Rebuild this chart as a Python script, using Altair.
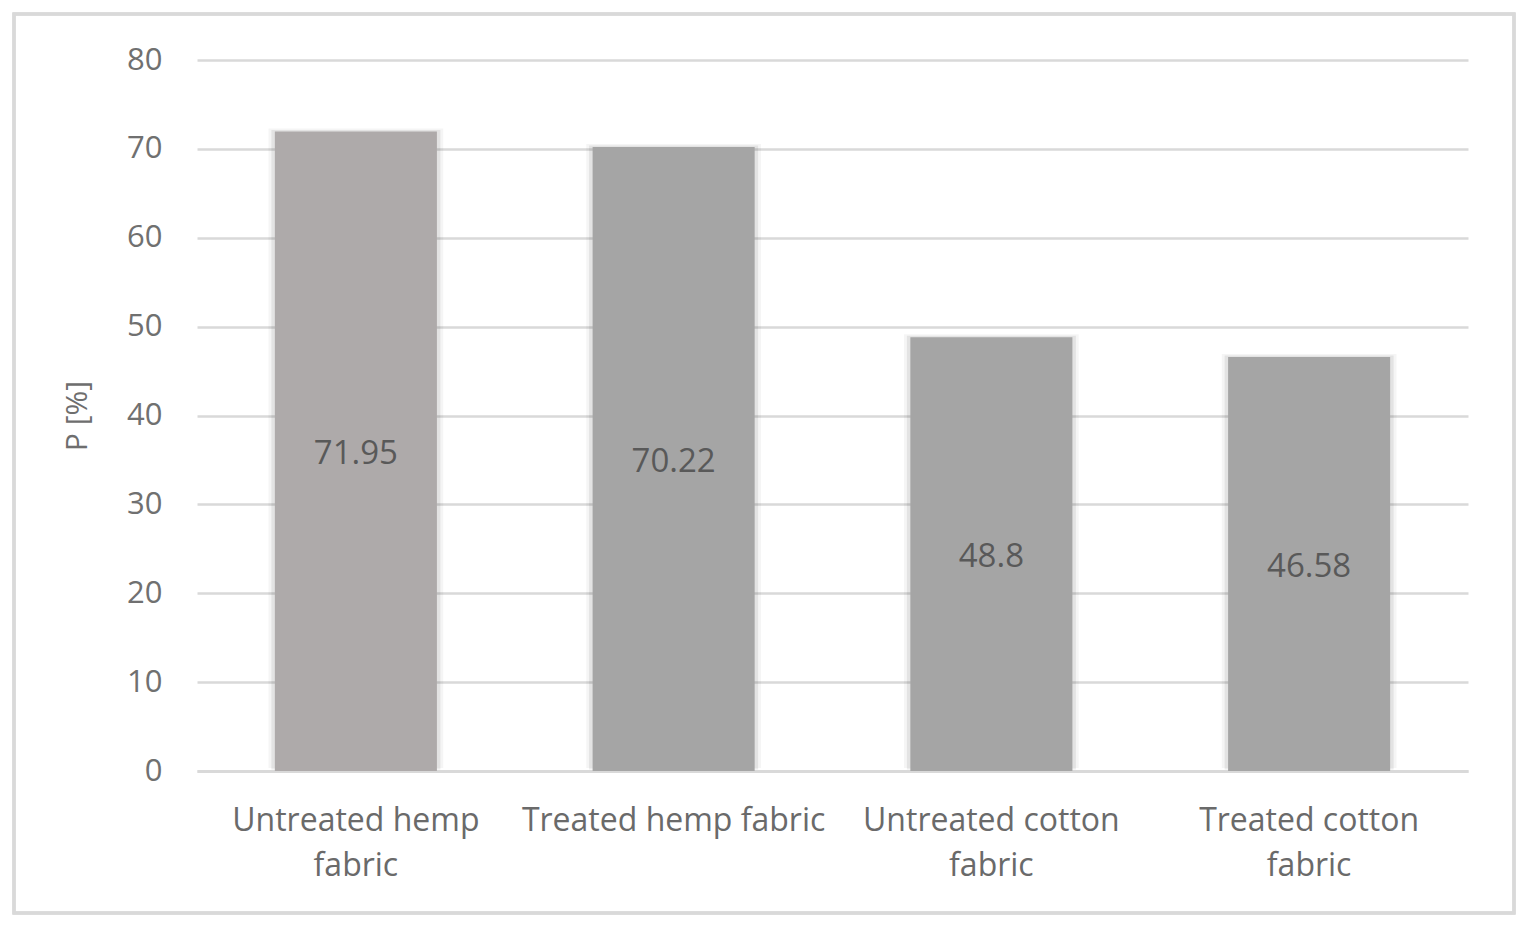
import altair as alt
import pandas as pd

categories = ["Untreated hemp fabric", "Treated hemp fabric", "Untreated cotton fabric", "Treated cotton fabric"]
label_lines = [["Untreated hemp", "fabric"], ["Treated hemp fabric"], ["Untreated cotton", "fabric"], ["Treated cotton", "fabric"]]
values = [71.95, 70.22, 48.8, 46.58]
bar_colors = ["#AEAAAA", "#A5A5A5", "#A5A5A5", "#A5A5A5"]
y_ticks = [0, 10, 20, 30, 40, 50, 60, 70, 80]

df = pd.DataFrame({"cat": categories, "P": values, "color": bar_colors})

FONT = "Open Sans, sans-serif"

# label expression mapping category -> lines
expr = "''"
for c, lines in reversed(list(zip(categories, label_lines))):
    arr = "[" + ",".join("'" + l + "'" for l in lines) + "]"
    expr = f"datum.value == '{c}' ? {arr} : ({expr})"

W, H = 1271, 711

x_axis = alt.Axis(labelExpr=expr, labelAngle=0, labelFont=FONT, labelFontSize=32,
                  labelColor="#6A6A6A", labelPadding=34, labelLineHeight=45,
                  labelLimit=0, ticks=False, grid=False,
                  domainColor="#D9D9D9", domainWidth=3, labelBaseline="top")
x_scale = alt.Scale(paddingInner=0, paddingOuter=0)
x_enc = alt.X("cat:N", sort=categories, title=None, scale=x_scale, axis=x_axis)

y_scale = alt.Scale(domain=[0, 80])
y_axis = alt.Axis(values=y_ticks, grid=True, gridColor="#D9D9D9", gridWidth=2.5,
                  domain=False, ticks=False, labelFont=FONT, labelFontSize=31,
                  labelColor="#707070", labelPadding=35,
                  titleFont=FONT, titleFontSize=30, titleColor="#6E6E6E",
                  titleFontWeight="normal", titlePadding=34)

base = alt.Chart(df)

shadow1 = base.mark_bar(width={"band": 0.55}, opacity=0.04, color="#000000", yOffset=-3).encode(
    x=x_enc, y=alt.Y("P:Q", scale=y_scale, title="P [%]", axis=y_axis))
shadow2 = base.mark_bar(width={"band": 0.532}, opacity=0.07, color="#000000", yOffset=-1.5).encode(
    x=x_enc, y=alt.Y("P:Q", scale=y_scale, title="P [%]", axis=y_axis))

bars = base.mark_bar(width={"band": 0.51}).encode(
    x=x_enc,
    y=alt.Y("P:Q", scale=y_scale, title="P [%]", axis=y_axis),
    color=alt.Color("color:N", scale=None),
)

labels = base.transform_calculate(mid="datum.P / 2").mark_text(
    font=FONT, fontSize=33, color="#595959", baseline="middle", align="center", dy=3
).encode(
    x=x_enc,
    y=alt.Y("mid:Q", scale=y_scale, title="P [%]", axis=y_axis),
    text=alt.Text("P:Q"),
)

frame = alt.Chart(df).mark_rect(fill="transparent", stroke="#D9D9D9", strokeWidth=3).encode(
    x=alt.value(-183), x2=alt.value(1317), y=alt.value(-46), y2=alt.value(853)
)

chart = alt.layer(shadow1, shadow2, bars, labels, frame).properties(
    width=W, height=H,
    background="white",
    autosize=alt.AutoSizeParams(type="none"),
    padding={"left": 189, "top": 52, "right": 48, "bottom": 144},
).configure_view(strokeWidth=0)

chart.save("out.html", embed_options={"renderer": "svg", "actions": False})
